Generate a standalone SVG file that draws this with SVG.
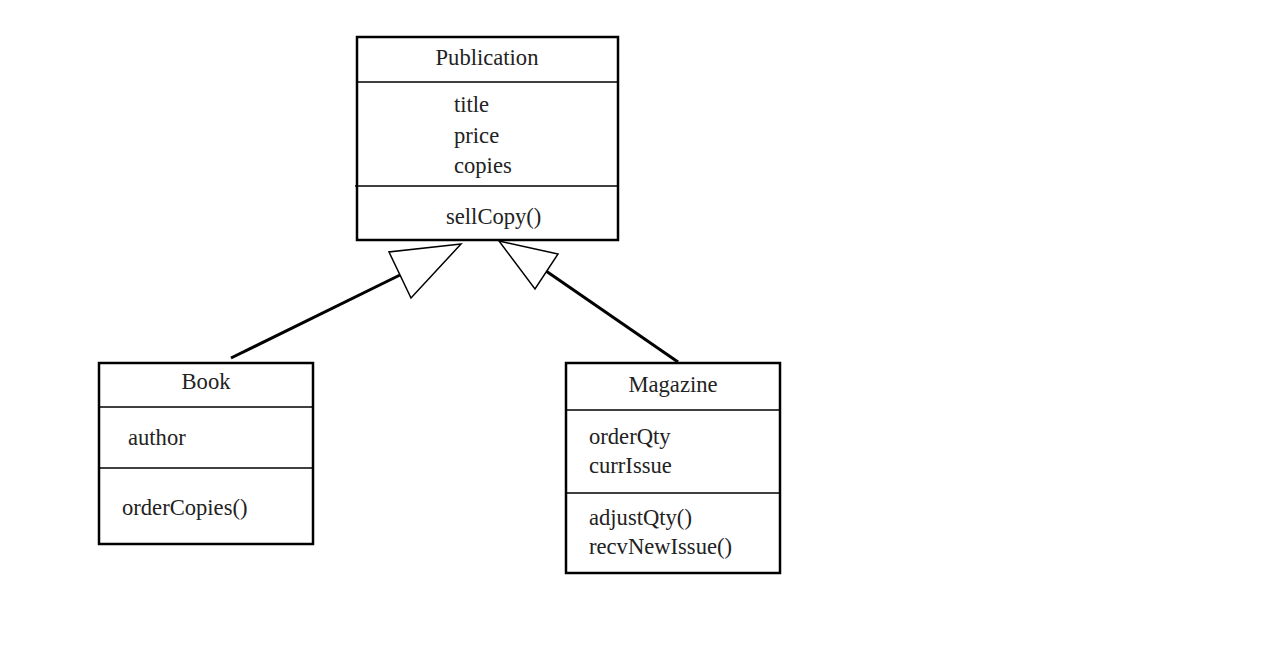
<svg xmlns="http://www.w3.org/2000/svg" width="1263" height="648" viewBox="0 0 1263 648">
<style>
.box{fill:#fff;stroke:#000;stroke-width:2.5}
.div{stroke:#000;stroke-width:1.5}
.t{font-family:"Liberation Serif","Times New Roman",serif;font-size:22.6px;fill:#222}
.c{text-anchor:middle}
.edge{stroke:#000;stroke-width:3;fill:none}
.head{fill:#fff;stroke:#000;stroke-width:1.5;stroke-linejoin:miter}
</style>
<rect width="1263" height="648" fill="#fff"/>
<g id="connectors">
<line class="edge" x1="231" y1="358" x2="400" y2="275"/>
<polygon class="head" points="461,244 389,252 411,298"/>
<line class="edge" x1="678" y1="362" x2="546" y2="271"/>
<polygon class="head" points="499,241 558,254 535,289"/>
</g>
<g id="publication">
<rect class="box" x="357" y="37" width="261" height="203"/>
<line class="div" x1="357" y1="82" x2="618" y2="82"/>
<line class="div" x1="355" y1="186" x2="618" y2="186"/>
<text class="t c" x="487" y="65">Publication</text>
<text class="t" x="454" y="112">title</text>
<text class="t" x="454" y="143">price</text>
<text class="t" x="454" y="173">copies</text>
<text class="t" x="446" y="224">sellCopy()</text>
</g>
<g id="book">
<rect class="box" x="99" y="363" width="214" height="181"/>
<line class="div" x1="99" y1="407" x2="313" y2="407"/>
<line class="div" x1="99" y1="468" x2="313" y2="468"/>
<text class="t c" x="206" y="389">Book</text>
<text class="t" x="128" y="445">author</text>
<text class="t" x="122" y="515">orderCopies()</text>
</g>
<g id="magazine">
<rect class="box" x="566" y="363" width="214" height="210"/>
<line class="div" x1="566" y1="410" x2="780" y2="410"/>
<line class="div" x1="566" y1="493" x2="780" y2="493"/>
<text class="t c" x="673" y="392">Magazine</text>
<text class="t" x="589" y="444">orderQty</text>
<text class="t" x="589" y="473">currIssue</text>
<text class="t" x="589" y="525">adjustQty()</text>
<text class="t" x="589" y="554">recvNewIssue()</text>
</g>
</svg>
